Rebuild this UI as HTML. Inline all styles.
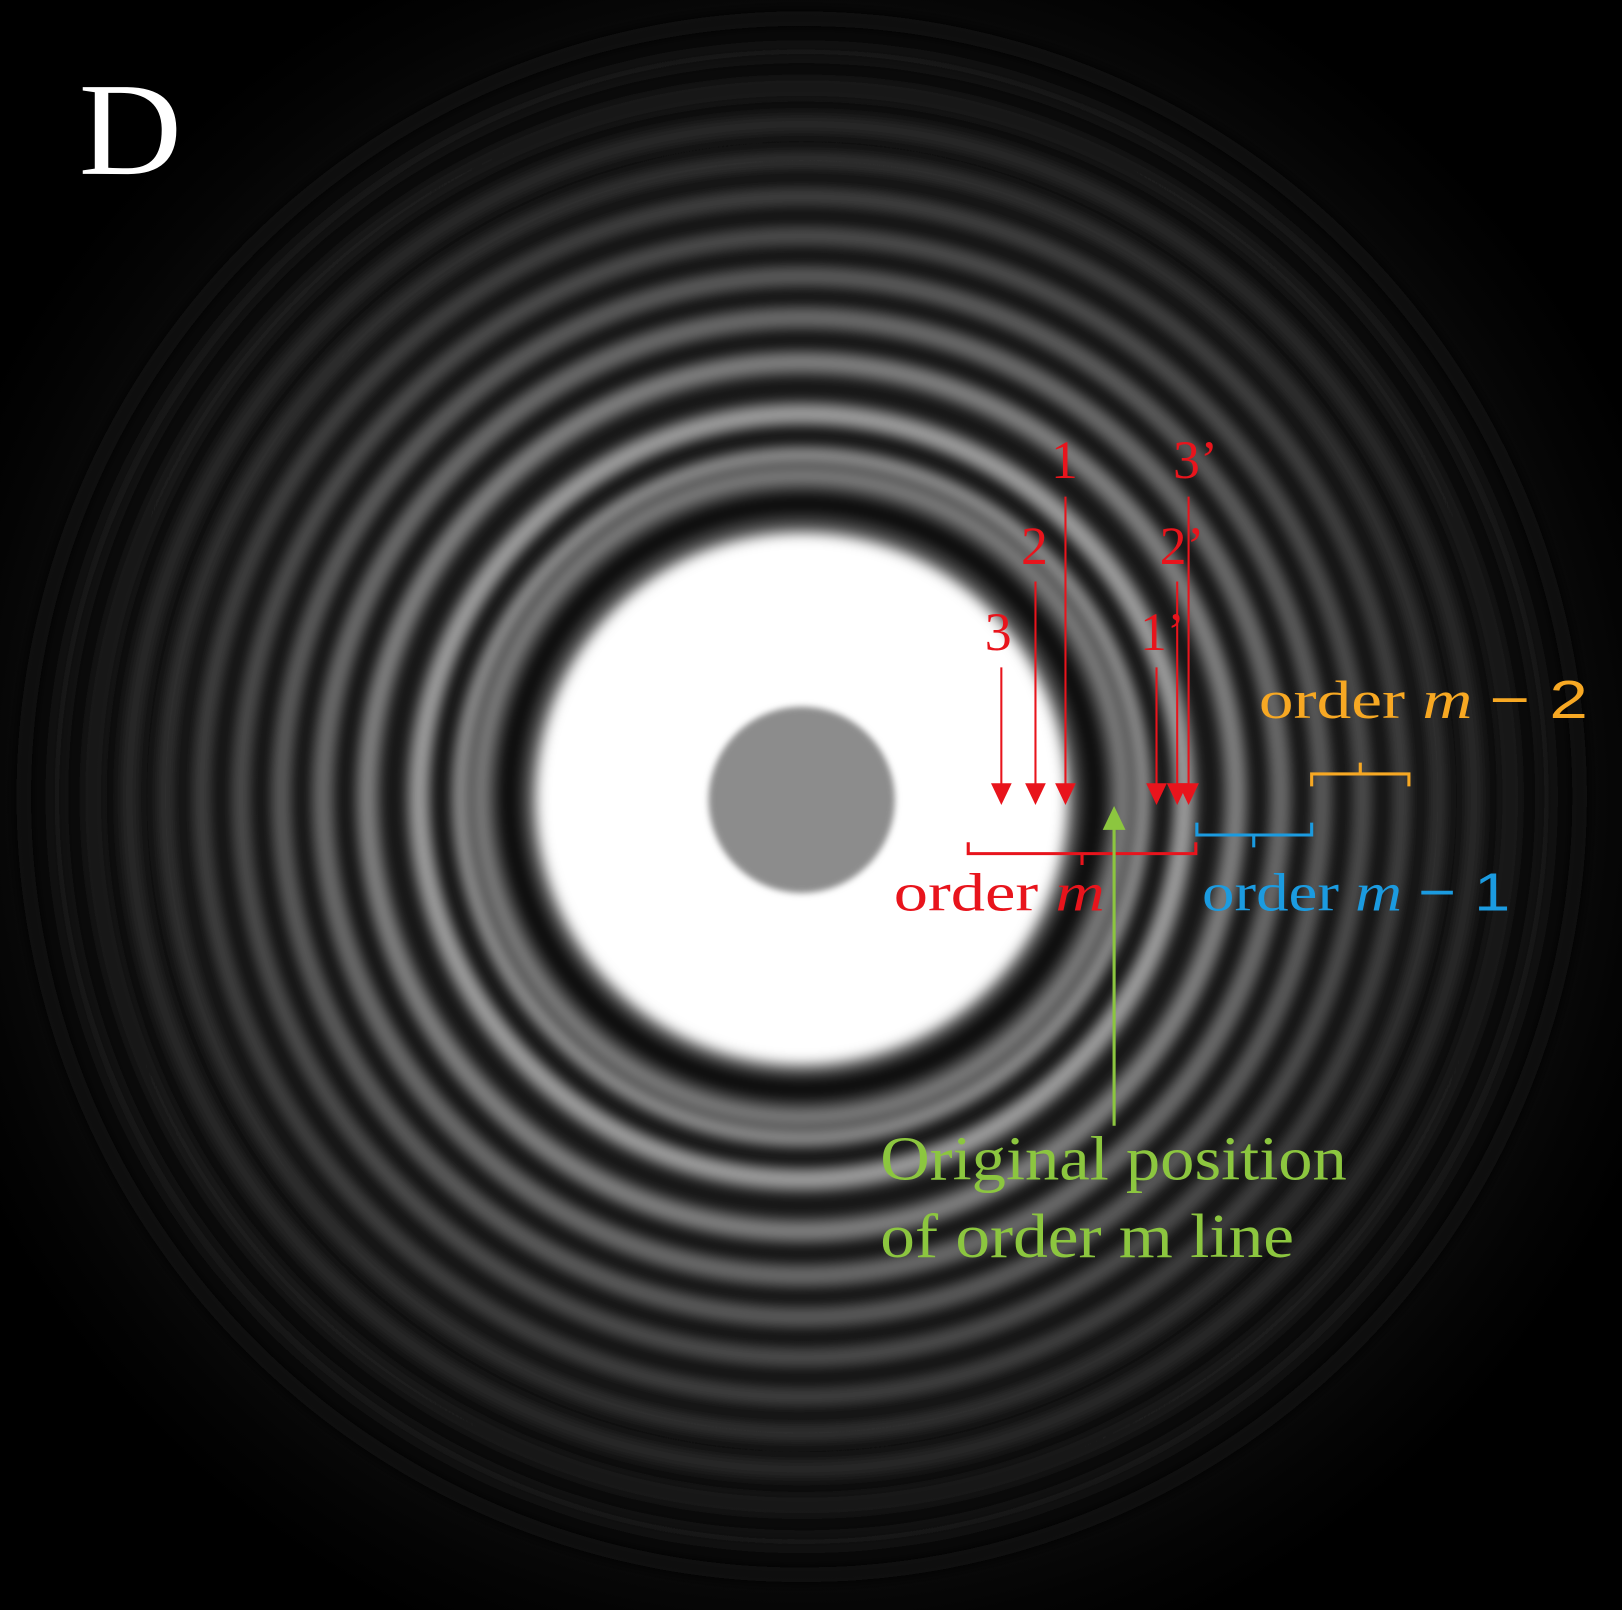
<!DOCTYPE html>
<html><head><meta charset="utf-8"><style>
html,body{margin:0;padding:0;background:#000;overflow:hidden;width:1622px;height:1610px}
svg{display:block;overflow:hidden;position:absolute;left:0;top:0}
text{font-family:"Liberation Serif","DejaVu Serif",serif}
</style></head><body>
<svg id="fig" width="1622" height="1610" viewBox="0 0 1568 1556" preserveAspectRatio="none" xmlns="http://www.w3.org/2000/svg">
<defs>
<clipPath id="frame"><rect x="0" y="0" width="1568" height="1556"/></clipPath>
<filter id="blur" x="-20%" y="-20%" width="140%" height="140%"><feGaussianBlur stdDeviation="7"/></filter>
<filter id="blur2" x="-10%" y="-10%" width="120%" height="120%"><feGaussianBlur stdDeviation="6"/></filter>
<filter id="blur3" x="-20%" y="-20%" width="140%" height="140%"><feGaussianBlur stdDeviation="3"/></filter>
<radialGradient id="halo" cx="0.5" cy="0.5" r="0.5">
<stop offset="0" stop-color="#4a4a4a"/>
<stop offset="0.35" stop-color="#3c3c3c"/>
<stop offset="0.5" stop-color="#2c2c2c"/>
<stop offset="0.65" stop-color="#1c1c1c"/>
<stop offset="0.8" stop-color="#0d0d0d"/>
<stop offset="0.92" stop-color="#040404"/>
<stop offset="1" stop-color="#000"/>
</radialGradient>
</defs>
<g clip-path="url(#frame)">
<rect x="0" y="0" width="1568" height="1556" fill="#000"/>
<rect x="0" y="0" width="1568" height="1556" fill="url(#halo)" style="transform-origin:775px 770px"/>
<g id="darkrings" filter="url(#blur2)"></g>
<g id="rings" filter="url(#blur2)"></g>
<circle cx="775" cy="772" r="258" fill="#fff" filter="url(#blur)"/>
<circle cx="775" cy="773" r="90" fill="#8c8c8c" filter="url(#blur3)"/>
</g>

<text x="76" y="168" font-size="128" fill="#fff" textLength="100" lengthAdjust="spacingAndGlyphs">D</text>

<g fill="#e8141c" stroke="#e8141c">
<text x="1016" y="462" font-size="52" stroke="none">1</text>
<text x="987" y="545" font-size="52" stroke="none">2</text>
<text x="952" y="628" font-size="52" stroke="none">3</text>
<text x="1134" y="462" font-size="52" stroke="none">3’</text>
<text x="1121" y="545" font-size="52" stroke="none">2’</text>
<text x="1102" y="628" font-size="52" stroke="none">1’</text>
<g id="arrows"></g>
<path d="M936 814 V825 H1156 V814 M1046 825 V836" fill="none" stroke-width="3"/>
<text x="864" y="880" font-size="52" stroke="none" textLength="204" lengthAdjust="spacingAndGlyphs">order <tspan font-style="italic">m</tspan></text>
</g>

<g fill="#1b9be0" stroke="#1b9be0">
<path d="M1157 795 V807 H1268 V795 M1212 807 V819" fill="none" stroke-width="3"/>
<text x="1162" y="880" font-size="52" stroke="none" textLength="298" lengthAdjust="spacingAndGlyphs">order <tspan font-style="italic">m</tspan> <tspan font-family="Liberation Sans, sans-serif">− 1</tspan></text>
</g>

<g fill="#f7a823" stroke="#f7a823">
<path d="M1268 760 V748 H1362 V760 M1315 748 V737" fill="none" stroke-width="3"/>
<text x="1217" y="694" font-size="52" stroke="none" textLength="318" lengthAdjust="spacingAndGlyphs">order <tspan font-style="italic">m</tspan> <tspan font-family="Liberation Sans, sans-serif">− 2</tspan></text>
</g>

<g fill="#8cc63f" stroke="#8cc63f">
<line x1="1077" y1="1088" x2="1077" y2="795" stroke-width="3"/>
<polygon points="1077,779 1066,802 1088,802" stroke="none"/>
<text x="851" y="1140" font-size="60" stroke="none" textLength="451" lengthAdjust="spacingAndGlyphs">Original position</text>
<text x="851" y="1215" font-size="60" stroke="none" textLength="400" lengthAdjust="spacingAndGlyphs">of order m line</text>
</g>
</svg>
<script>
// ring radii (px from centre) and brightness (0..1)
const ringRadii = [310, 330, 370, 420, 463, 503, 542, 580, 615, 650, 685, 720, 752];
const ringBrightness = [0.5, 0.6, 0.62, 0.5, 0.42, 0.36, 0.3, 0.25, 0.2, 0.16, 0.12, 0.09, 0.06];
const ringWidths = [14, 12, 18, 18, 18, 17, 16, 16, 15, 15, 15, 14, 14];
// dark band radii and opacity
const darkRadii = [283, 350, 395, 442, 484, 523, 562, 598, 633, 668, 703, 737];
const darkOpacity = [0.8, 0.6, 0.55, 0.5, 0.45, 0.4, 0.35, 0.3, 0.25, 0.2, 0.15, 0.1];
// arrow x positions of lines 3,2,1,1',2',3' and their start y
const arrowX = [968, 1001, 1030, 1118, 1138, 1149];
const arrowTop = [645, 562, 480, 645, 562, 480];

const NS = 'http://www.w3.org/2000/svg';
const cx = 775, cy = 770;
// halo: use gradient in user space centred on image centre
const halo = document.getElementById('halo');
halo.setAttribute('gradientUnits', 'userSpaceOnUse');
halo.setAttribute('cx', cx); halo.setAttribute('cy', cy); halo.setAttribute('r', 880);
const dg = document.getElementById('darkrings');
darkRadii.forEach((r, i) => {
  const c = document.createElementNS(NS, 'circle');
  
  
  c.setAttribute('cx', cx); c.setAttribute('cy', cy); c.setAttribute('r', r);
  c.setAttribute('fill', 'none');
  c.setAttribute('stroke', '#000');
  c.setAttribute('stroke-opacity', darkOpacity[i]);
  c.setAttribute('stroke-width', 20);
  dg.appendChild(c);
});
const rg = document.getElementById('rings');
ringRadii.forEach((r, i) => {
  const c = document.createElementNS(NS, 'circle');
  
  
  c.setAttribute('cx', cx); c.setAttribute('cy', cy); c.setAttribute('r', r);
  const v = Math.round(255 * ringBrightness[i]);
  c.setAttribute('fill', 'none');
  c.setAttribute('stroke', `rgb(${v},${v},${v})`);
  c.setAttribute('stroke-width', ringWidths[i]);
  rg.appendChild(c);
});
const ag = document.getElementById('arrows');
arrowX.forEach((x, i) => {
  const l = document.createElementNS(NS, 'line');
  
  
  l.setAttribute('x1', x); l.setAttribute('x2', x);
  l.setAttribute('y1', arrowTop[i]); l.setAttribute('y2', 760);
  l.setAttribute('stroke-width', 2);
  ag.appendChild(l);
  const p = document.createElementNS(NS, 'polygon');
  
  
  p.setAttribute('points', `${x-10},757 ${x+10},757 ${x},778`);
  p.setAttribute('stroke', 'none');
  ag.appendChild(p);
});
</script>
</body></html>
